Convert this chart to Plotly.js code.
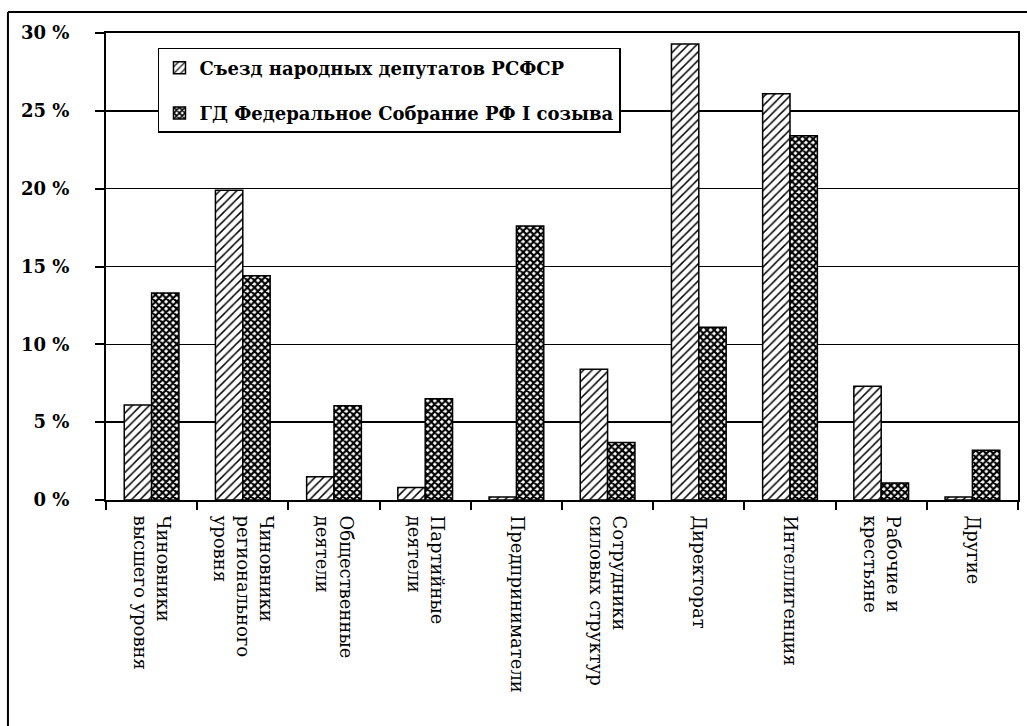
<!DOCTYPE html>
<html>
<head>
<meta charset="utf-8">
<script src="https://cdn.plot.ly/plotly-3.0.1.min.js"></script>
<style>html,body{margin:0;padding:0;background:#fff;}#chart{width:1027px;height:726px;}</style>
</head>
<body>
<div id="chart"></div>
<script>
const categories = [
  "Чиновники<br>высшего уровня",
  "Чиновники<br>регионального<br>уровня",
  "Общественные<br>деятели",
  "Партийные<br>деятели",
  "Предприниматели",
  "Сотрудники<br>силовых структур",
  "Директорат",
  "Интеллигенция",
  "Рабочие и<br>крестьяне",
  "Другие"
];
const seriesNames = ["Съезд народных депутатов РСФСР", "ГД Федеральное Собрание РФ I созыва"];
const congressRSFSR = [6.1, 19.9, 1.5, 0.8, 0.2, 8.4, 29.3, 26.1, 7.3, 0.2];
const dumaFirst = [13.3, 14.4, 6.05, 6.5, 17.6, 3.7, 11.1, 23.4, 1.1, 3.2];
const yTickVals = [0, 5, 10, 15, 20, 25, 30];
const yTickText = ["0 %", "5 %", "10 %", "15 %", "20 %", "25 %", "30 %"];

const serif = "'DejaVu Serif', 'Liberation Serif', serif";

const traces = [
  {
    type: "bar", name: seriesNames[0], x: categories, y: congressRSFSR,
    legendgroup: "a",
    marker: {
      color: "white",
      line: {color: "black", width: 1.5},
      pattern: {shape: "/", fgcolor: "black", bgcolor: "white", size: 6, solidity: 0.25}
    }
  },
  {
    type: "bar", name: seriesNames[1], x: categories, y: dumaFirst,
    legendgroup: "b",
    marker: {
      color: "white",
      line: {color: "black", width: 1.5},
      pattern: {shape: "x", fgcolor: "black", bgcolor: "white", size: 5, solidity: 0.65}
    }
  }
];

const layout = {
  width: 1027, height: 726,
  margin: {l: 106, r: 9, t: 33, b: 226},
  paper_bgcolor: "white", plot_bgcolor: "white",
  barmode: "group", bargap: 0.4, bargroupgap: 0,
  showlegend: true,
  legend: {
    x: 0.057, y: 0.968, xanchor: "left", yanchor: "top",
    bgcolor: "white", bordercolor: "black", borderwidth: 1.5,
    font: {family: serif, size: 18, color: "black", weight: "bold"},
    traceorder: "grouped", tracegroupgap: 19,
    itemclick: false
  },
  xaxis: {
    type: "category",
    tickangle: 90,
    tickson: "boundaries",
    ticks: "outside", ticklen: 8, tickwidth: 2, tickcolor: "black",
    showline: true, linecolor: "black", linewidth: 2, mirror: true,
    showgrid: false,
    tickfont: {family: serif, size: 18, color: "black"},
    ticklabelstandoff: 10,
    fixedrange: true
  },
  yaxis: {
    range: [0, 30],
    tickmode: "array",
    tickvals: yTickVals,
    ticktext: yTickText,
    ticks: "outside", ticklen: 9, tickwidth: 2, tickcolor: "black",
    showline: true, linecolor: "black", linewidth: 2, mirror: true,
    showgrid: true, gridcolor: "black", gridwidth: 1.5,
    zeroline: false,
    tickfont: {family: serif, size: 18, color: "black", weight: "bold"},
    ticklabelstandoff: 22,
    fixedrange: true
  },
  shapes: [
    {type: "line", xref: "paper", yref: "paper", x0: -0.1075, x1: -0.1075, y0: 1.045, y1: -0.49,
     line: {color: "black", width: 2}},
    {type: "line", xref: "paper", yref: "paper", x0: -0.1075, x1: 1.02, y0: 1.045, y1: 1.045,
     line: {color: "black", width: 2}}
  ]
};

Plotly.newPlot("chart", traces, layout, {staticPlot: true, displayModeBar: false});
</script>
</body>
</html>
